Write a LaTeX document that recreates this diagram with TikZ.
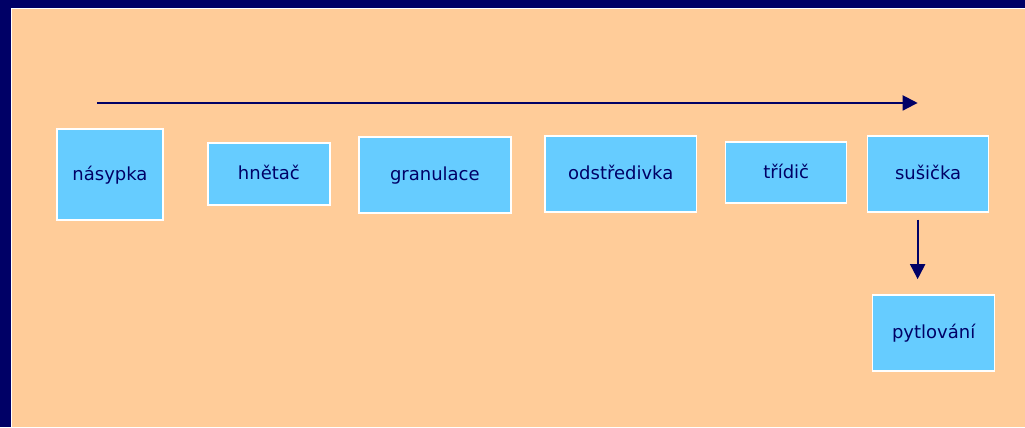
\documentclass[tikz,border=0pt]{standalone}
\usepackage{fontspec}
\setmainfont{DejaVu Sans}
\usetikzlibrary{arrows.meta}
\definecolor{navy}{HTML}{000066}
\definecolor{peach}{HTML}{FFCC99}
\definecolor{sky}{HTML}{66CCFF}
\begin{document}
\begin{tikzpicture}[x=1pt,y=-1pt,
  stage/.style={draw=white,line width=1.5pt,fill=sky,text=navy,
    inner sep=0pt,text height=12pt,text depth=0pt,
    font=\fontsize{18}{20}\selectfont},
  flow/.style={draw=navy,line width=2pt,-{Triangle[length=15pt,width=15pt]}}]
  % frame and page background
  \fill[navy] (0,0) rectangle (1025,427);
  \fill[peach] (11,8) rectangle (1025,427);
  \draw[white,line width=0.8pt] (11.4,427) -- (11.4,8.4) -- (1025,8.4);
  % process stages
  \node[stage,minimum width=106pt,minimum height=91pt] (nasypka) at (110,174.5) {násypka};
  \node[stage,minimum width=122pt,minimum height=62pt] (hnetac) at (269,174) {hnětač};
  \node[stage,minimum width=152pt,minimum height=76pt] (granulace) at (435,175) {granulace};
  \node[stage,minimum width=152pt,minimum height=76pt] (odstredivka) at (621,174) {odstředivka};
  \node[stage,minimum width=121pt,minimum height=61pt] (tridic) at (786.5,172.5) {třídič};
  \node[stage,minimum width=121pt,minimum height=76pt] (susicka) at (928.5,174) {sušička};
  \node[stage,minimum width=122pt,minimum height=76pt] (pytlovani) at (934,333) {pytlování};
  % flow arrows
  \coordinate (hstart) at (97,103);
  \coordinate (hend) at (918,103);
  \draw[flow] (hstart) -- (hend);
  \draw[flow] ([yshift=-7pt]susicka.south -| hend) -- ([yshift=15pt]pytlovani.north -| hend);
\end{tikzpicture}
\end{document}
